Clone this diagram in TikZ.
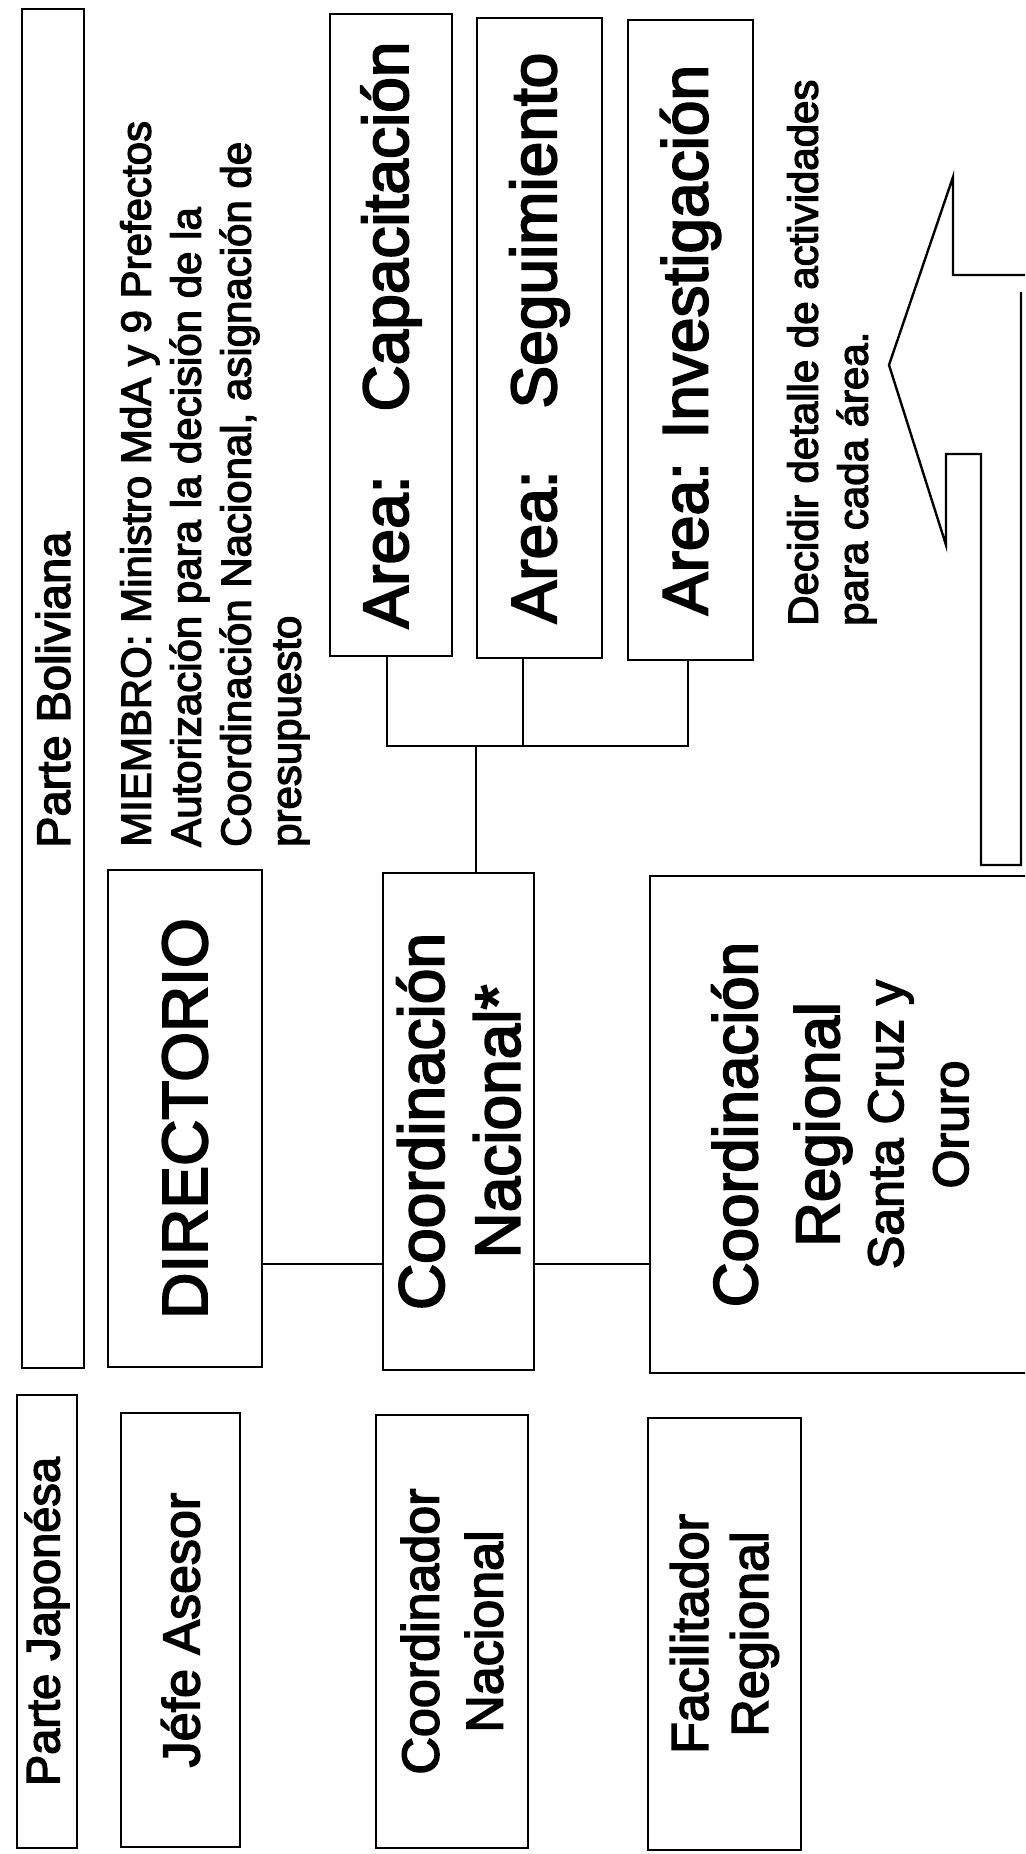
\documentclass[tikz,border=0pt]{standalone}
\usepackage{fontspec}
\setmainfont{Liberation Sans}[FakeBold=3]
\newcommand{\fsz}[2]{\fontsize{#1pt}{#2pt}\selectfont}
\begin{document}
\begin{tikzpicture}[x=1pt,y=-1pt,
  box/.style={draw, line width=2.6pt, inner sep=0pt, align=center, rotate=90},
  lnk/.style={line width=2pt},
  txt/.style={inner sep=0pt, rotate=90, align=left},
]
\useasboundingbox (0,0) rectangle (1025,1854);
\clip (0,0) rectangle (1025,1854);
\fill[white] (0,0) rectangle (1025,1854);

% left column
\node[box, minimum width=1359pt, minimum height=62pt] (pb) at (53,688.5) {};
\node[txt, anchor=west, font=\fsz{47}{54}] (pbt) at (53,848) {Parte Boliviana};
\node[box, minimum width=453pt, minimum height=60pt, font=\fsz{47}{54}] (pj) at (47,1621.5) {Parte Japonésa};

% second column
\node[box, minimum width=497pt, minimum height=154pt, font=\fsz{64}{76}] (dir) at (185,1118.5) {DIRECTORIO};
\node[box, minimum width=434pt, minimum height=119pt, font=\fsz{52}{62}] (ja) at (180.5,1630) {Jéfe Asesor};
\node[txt, anchor=north west, font=\fsz{42}{50}] (miem) at (120,847)
  {MIEMBRO: Ministro MdA y 9 Prefectos\\Autorización para la decisión de la\\Coordinación Nacional, asignación de\\presupuesto};

% third column
\node[box, minimum width=497pt, minimum height=151pt, font=\fsz{64}{76}] (cn) at (458.5,1121.5) {Coordinación\\Nacional*};
\node[box, minimum width=433pt, minimum height=152pt, font=\fsz{52}{64}] (cnj) at (452,1631.5) {Coordinador\\Nacional};

% areas
\node[box, minimum width=642pt, minimum height=122pt, font=\fsz{64}{76}] (cap) at (391,335) {Area:\hspace{64pt}Capacitación};
\node[box, minimum width=640pt, minimum height=125pt, font=\fsz{64}{76}] (seg) at (539.5,338) {Area:\hspace{62pt}Seguimiento};
\node[box, minimum width=640pt, minimum height=125pt, font=\fsz{64}{76}] (inv) at (690.5,340) {Area: Investigación};

% regional
\node[box, minimum width=497pt, minimum height=380pt, font=\fsz{62}{82}] (cr) at (840,1124.5)
  {Coordinación\\Regional\\[-18pt]{\fsz{50}{64}Santa Cruz y}\\[-17pt]{\fsz{50}{64}Oruro}};
\node[box, minimum width=432pt, minimum height=153pt, font=\fsz{52}{60}] (fr) at (724.5,1634) {Facilitador\\Regional};

% text near arrow
\node[txt, anchor=north west, font=\fsz{42}{50}] (dec) at (787,626) {Decidir detalle de actividades\\para cada área.};

% connectors
\coordinate (bC) at (387,746);
\coordinate (bS) at (523,746);
\coordinate (bI) at (688,746);
\coordinate (bN) at (476,746);
\coordinate (hl) at (0,1264);
\draw[lnk] (cap.west -| bC) -- (bC) -- (bI) -- (inv.west -| bI);
\draw[lnk] (seg.west -| bS) -- (bS);
\draw[lnk] (bN) -- (cn.east -| bN);
\draw[lnk] (dir.south |- hl) -- (cn.north |- hl);
\draw[lnk] (cn.south |- hl) -- (cr.north |- hl);

% big arrow
\draw[line width=2.4pt, line join=miter] (1030,275) -- (953,275) -- (953,177) -- (889,365) -- (946,545) -- (946,454) -- (981,454) -- (981,865) -- (1021,865) -- (1021,292);
\end{tikzpicture}
\end{document}
